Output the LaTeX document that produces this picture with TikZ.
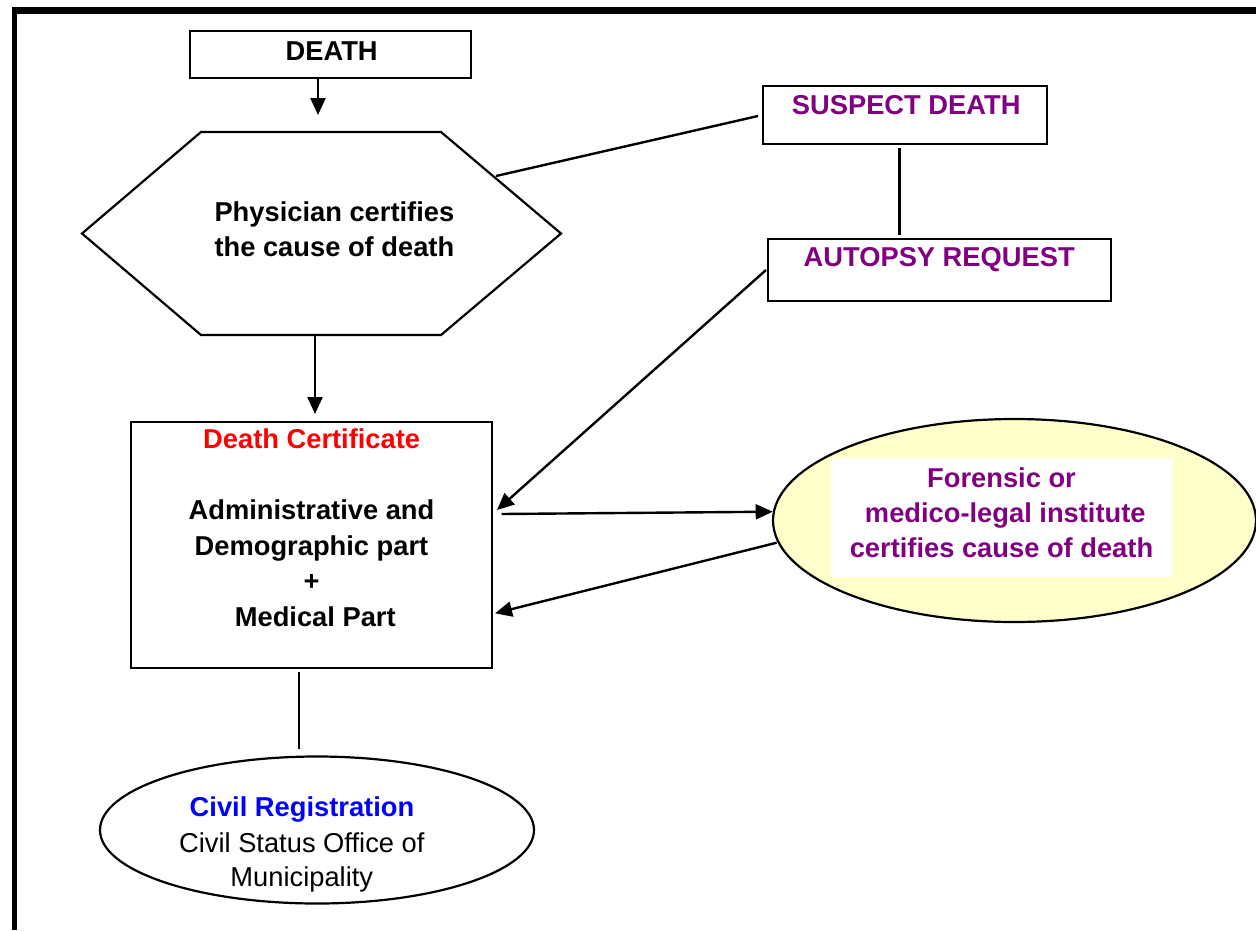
\documentclass[tikz,border=0pt]{standalone}
\usepackage{fontspec}
\setmainfont{Liberation Sans}
\usetikzlibrary{arrows.meta,shapes.geometric}
\definecolor{purp}{HTML}{800080}
\definecolor{lyellow}{HTML}{FFFFCC}
\definecolor{wblue}{HTML}{0000FF}
\newcommand{\mlines}[1]{\begin{tabular}[t]{@{}c@{}}#1\end{tabular}}
\begin{document}
\begin{tikzpicture}[x=1pt,y=-1pt,
  box/.style={draw, line width=2.2pt, inner sep=0pt},
  txt/.style={inner sep=0pt, anchor=base, font=\fontsize{27.3}{35}\selectfont\bfseries},
  conn/.style={line width=2.4pt},
  arr/.style={conn, -{Triangle[length=17pt,width=15pt]}}]
\useasboundingbox (0,0) rectangle (1256,930);
\fill[white] (0,0) rectangle (1256,930);
% frame (top and left edges)
\fill[black] (12,7) rectangle (1256,14);
\fill[black] (12,7) rectangle (17.3,930);

% DEATH
\node[box, minimum width=281pt, minimum height=47pt] (deathbox) at (330.5,54.5) {};
\node[txt] (death) at (331.7,60) {DEATH};

% hexagon
\draw[line width=2.2pt, line join=miter] (82,233.5) -- (201,132) -- (441,132) -- (561,233.5) -- (441,335) -- (201,335) -- cycle;
\node[txt] (phys) at (334.4,221.7) {\mlines{Physician certifies\\the cause of death}};
\coordinate (hexTop) at (318,115);
\coordinate (hexBot) at (315,336);
\coordinate (hexEdge) at (496,176);

% SUSPECT DEATH
\node[box, minimum width=284pt, minimum height=58.3pt] (suspbox) at (905.3,114.85) {};
\node[txt, text=purp] (susp) at (906.2,114) {SUSPECT DEATH};

% AUTOPSY REQUEST
\node[box, minimum width=342.4pt, minimum height=61.7pt] (autobox) at (939.5,269.85) {};
\node[txt, text=purp] (auto) at (939.2,266.7) {AUTOPSY REQUEST};

% Death certificate
\node[box, minimum width=360.7pt, minimum height=246.6pt] (dcbox) at (311.4,545) {};
\node[txt, text=red] (dctitle) at (311.7,448.3) {Death Certificate};
\node[txt, font=\fontsize{27.3}{35.8}\selectfont\bfseries] (dcbody) at (311.5,519.3) {\mlines{Administrative and\\Demographic part\\+\\\ Medical Part}};

% Forensic ellipse
\node[ellipse, draw, line width=2.2pt, fill=lyellow, inner sep=0pt, minimum width=483pt, minimum height=203pt] (forbox) at (1014.5,520.5) {};
\fill[white] (831,458) rectangle (1172,577);
\node[txt, text=purp] (fortext) at (1001.5,487) {\mlines{Forensic or\\\ medico-legal institute\\certifies cause of death}};

% Civil registration ellipse
\node[ellipse, draw, line width=2.2pt, inner sep=0pt, minimum width=434pt, minimum height=147pt] (civbox) at (317,830) {};
\node[txt, text=wblue] (civtitle) at (302,816.7) {Civil Registration};
\node[txt, font=\fontsize{27.3}{34}\selectfont] (civtext) at (301.8,852.7) {\mlines{Civil Status Office of\\Municipality}};

% connector end points
\coordinate (suspEnd) at (758,116);
\coordinate (saTop) at (899.5,148);
\coordinate (saBot) at (899.5,235);
\coordinate (autoStart) at (766,270);
\coordinate (dcIn1) at (497,510);
\coordinate (dcOut) at (501.7,514);
\coordinate (forIn) at (772.7,511.7);
\coordinate (forOut) at (776.7,542.7);
\coordinate (dcIn2) at (495,613.3);
\coordinate (dcTop) at (315,414);
\coordinate (dcBot) at (299,672);
\coordinate (civTop) at (299,749);

% connectors
\draw[arr] (deathbox.south -| hexTop) -- (hexTop);
\draw[conn] (hexEdge) -- (suspEnd);
\draw[conn] (saTop) -- (saBot);
\draw[arr] (autoStart) -- (dcIn1);
\draw[arr] (dcOut) -- (forIn);
\draw[arr] (forOut) -- (dcIn2);
\draw[arr] (hexBot) -- (dcTop);
\draw[conn] (dcBot) -- (civTop);
\end{tikzpicture}
\end{document}
